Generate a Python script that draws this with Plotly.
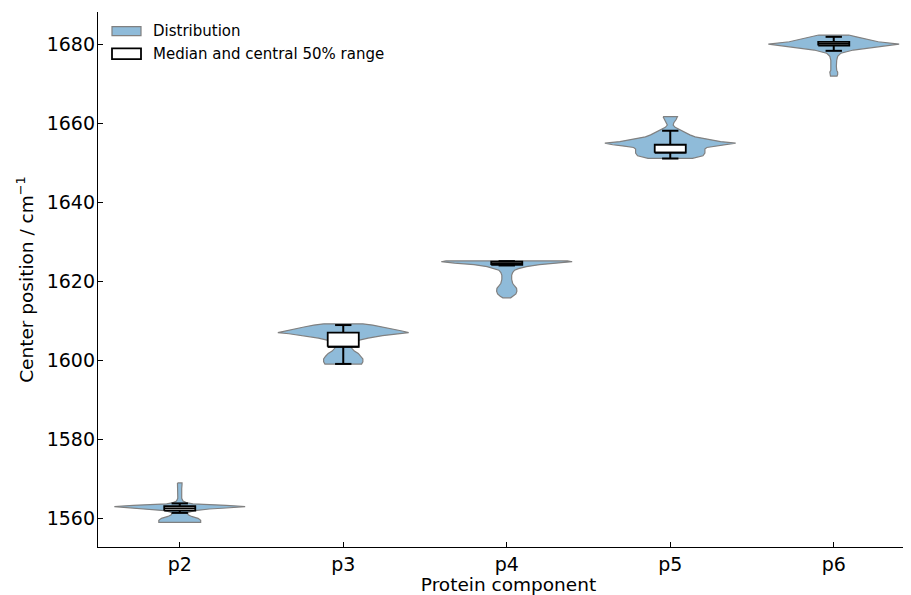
import plotly.graph_objects as go

categories = ["p2", "p3", "p4", "p5", "p6"]

# Violin density profiles (value, relative density; max = 1)
p2_vals = [1568.9, 1568.5, 1567.5, 1566.0, 1565.0, 1564.3, 1563.9, 1563.6, 1563.47, 1563.2, 1562.9,
           1562.53, 1562.28, 1561.85, 1561.5, 1561.2, 1560.8, 1560.4, 1559.9, 1559.4, 1558.9]
p2_dens = [0.035, 0.035, 0.03, 0.028, 0.03, 0.05, 0.1, 0.2, 0.45, 0.71, 1.0,
           0.71, 0.45, 0.23, 0.14, 0.12, 0.13, 0.18, 0.28, 0.32, 0.32]

p3_vals = [1609.2, 1608.9, 1608.4, 1607.9, 1607.4, 1607.0, 1606.7, 1606.2, 1605.6, 1605.0, 1604.5,
           1603.8, 1603.0, 1602.3, 1601.7, 1601.0, 1600.3, 1599.6, 1599.0]
p3_dens = [0.3, 0.45, 0.6, 0.76, 0.9, 1.0, 0.83, 0.6, 0.38, 0.23, 0.14,
           0.12, 0.13, 0.17, 0.23, 0.27, 0.3, 0.3, 0.28]

p4_vals = [1625.15, 1624.95, 1624.6, 1624.2, 1623.7, 1623.2, 1622.8, 1622.2, 1621.5, 1620.5, 1619.5,
           1618.8, 1618.2, 1617.5, 1616.8, 1616.2, 1615.8]
p4_dens = [0.93, 1.0, 0.8, 0.5, 0.3, 0.18, 0.12, 0.09, 0.075, 0.075, 0.09,
           0.12, 0.15, 0.155, 0.14, 0.1, 0.06]

p5_vals = [1661.7, 1661.0, 1660.2, 1659.6, 1659.0, 1658.4, 1657.8, 1657.1, 1656.6, 1656.0, 1655.4,
           1655.0, 1654.6, 1654.3, 1653.9, 1653.5, 1652.5, 1651.8, 1651.4, 1651.15]
p5_dens = [0.11, 0.09, 0.055, 0.045, 0.075, 0.14, 0.21, 0.3, 0.38, 0.58, 0.77,
           1.0, 0.88, 0.73, 0.56, 0.53, 0.53, 0.5, 0.42, 0.34]

p6_vals = [1682.4, 1682.0, 1681.56, 1680.7, 1680.1, 1679.45, 1678.6, 1677.8, 1677.0, 1676.0, 1674.5,
           1673.5, 1673.0, 1672.4, 1672.0]
p6_dens = [0.23, 0.33, 0.42, 0.68, 1.0, 0.68, 0.3, 0.11, 0.06, 0.045, 0.04,
           0.045, 0.06, 0.06, 0.05]

violin_vals = [p2_vals, p3_vals, p4_vals, p5_vals, p6_vals]
violin_dens = [p2_dens, p3_dens, p4_dens, p5_dens, p6_dens]

# Box statistics: whisker low, q1, median, q3, whisker high
whislo = [1561.3, 1599.05, 1624.0, 1651.1, 1678.4]
q1 = [1561.85, 1603.4, 1624.15, 1652.6, 1679.75]
median = [1562.45, 1603.4, 1624.55, 1652.6, 1680.2]
q3 = [1563.0, 1607.0, 1625.0, 1654.6, 1680.65]
whishi = [1563.7, 1608.9, 1625.1, 1658.15, 1681.95]

legend_labels = ["Distribution", "Median and central 50% range"]

VIOLIN_HALF = 0.4
BOX_HALF = 0.095
CAP_HALF = 0.05
VIOLIN_FILL = "rgb(143,187,217)"
VIOLIN_EDGE = "#808080"

positions = list(range(len(categories)))

vx, vy = [], []
for pos, vals, dens in zip(positions, violin_vals, violin_dens):
    left = [pos - VIOLIN_HALF * d for d in dens]
    right = [pos + VIOLIN_HALF * d for d in dens]
    vx += left + right[::-1] + [left[0], None]
    vy += vals + vals[::-1] + [vals[0], None]

wx, wy = [], []
for pos, lo, hi in zip(positions, whislo, whishi):
    wx += [pos, pos, None]
    wy += [lo, hi, None]

bx, by = [], []
for pos, a, b in zip(positions, q1, q3):
    bx += [pos - BOX_HALF, pos + BOX_HALF, pos + BOX_HALF, pos - BOX_HALF, pos - BOX_HALF, None]
    by += [a, a, b, b, a, None]

mx, my = [], []
for pos, m in zip(positions, median):
    mx += [pos - BOX_HALF, pos + BOX_HALF, None]
    my += [m, m, None]

cx, cy = [], []
for pos, lo, hi in zip(positions, whislo, whishi):
    cx += [pos - CAP_HALF, pos + CAP_HALF, None, pos - CAP_HALF, pos + CAP_HALF, None]
    cy += [lo, lo, None, hi, hi, None]

fig = go.Figure()
fig.add_trace(go.Scatter(x=vx, y=vy, mode="lines", fill="toself",
                         fillcolor=VIOLIN_FILL, line=dict(color=VIOLIN_EDGE, width=1.2),
                         name=legend_labels[0], hoverinfo="skip", showlegend=False))
fig.add_trace(go.Scatter(x=wx, y=wy, mode="lines", line=dict(color="black", width=2),
                         showlegend=False, hoverinfo="skip"))
fig.add_trace(go.Scatter(x=bx, y=by, mode="lines", fill="toself", fillcolor="white",
                         line=dict(color="black", width=1.8),
                         name=legend_labels[1], hoverinfo="skip", showlegend=False))
fig.add_trace(go.Scatter(x=mx, y=my, mode="lines", line=dict(color="black", width=1.8),
                         showlegend=False, hoverinfo="skip"))
fig.add_trace(go.Scatter(x=cx, y=cy, mode="lines", line=dict(color="black", width=2),
                         showlegend=False, hoverinfo="skip"))

PLOT_W = 821  # plot-area width in px; the page crops the right end, as in the reference

# Hand-drawn legend (matplotlib-style rectangular patches)
legend_rows = [
    dict(y0=0.9557, y1=0.9725, ty=0.9640, fill=VIOLIN_FILL, edge=VIOLIN_EDGE, lw=1.2),
    dict(y0=0.9121, y1=0.9321, ty=0.9221, fill="white", edge="black", lw=1.8),
]
for row, label in zip(legend_rows, legend_labels):
    fig.add_shape(type="rect", xref="paper", yref="paper",
                  x0=14 / PLOT_W, x1=43 / PLOT_W, y0=row["y0"], y1=row["y1"],
                  fillcolor=row["fill"], line=dict(color=row["edge"], width=row["lw"]))
    fig.add_annotation(xref="paper", yref="paper", x=53 / PLOT_W, y=row["ty"],
                       xanchor="left", yanchor="middle", text=label, showarrow=False,
                       font=dict(size=15, color="black"))

# The page body adds an 8px offset
fig.update_layout(
    width=90 + PLOT_W, height=587,
    margin=dict(l=90, r=0, t=4, b=48),
    plot_bgcolor="white", paper_bgcolor="white",
    font=dict(family="DejaVu Sans", size=19, color="black"),
    showlegend=False,
)
fig.update_xaxes(
    range=[-0.5, -0.5 + PLOT_W / 163.5],
    tickmode="array", tickvals=positions, ticktext=categories,
    showline=True, linecolor="black", linewidth=1.3, mirror=False,
    ticks="inside", ticklen=5, tickwidth=1.3, tickcolor="black",
    showgrid=False, zeroline=False, automargin=False,
    tickfont=dict(size=19),
    title=dict(text="Protein component", standoff=4, font=dict(size=18.5)),
)
fig.update_yaxes(
    range=[1552.65, 1688.24],
    tickmode="array", tickvals=[1560, 1580, 1600, 1620, 1640, 1660, 1680],
    showline=True, linecolor="black", linewidth=1.3, mirror=False,
    ticks="inside", ticklen=5, tickwidth=1.3, tickcolor="black",
    showgrid=False, zeroline=False, automargin=False,
    tickfont=dict(size=19), ticklabelstandoff=-2,
    title=dict(text="Center position / cm<sup>−1</sup>", standoff=8, font=dict(size=18.5)),
)

fig.write_html("out.html")
